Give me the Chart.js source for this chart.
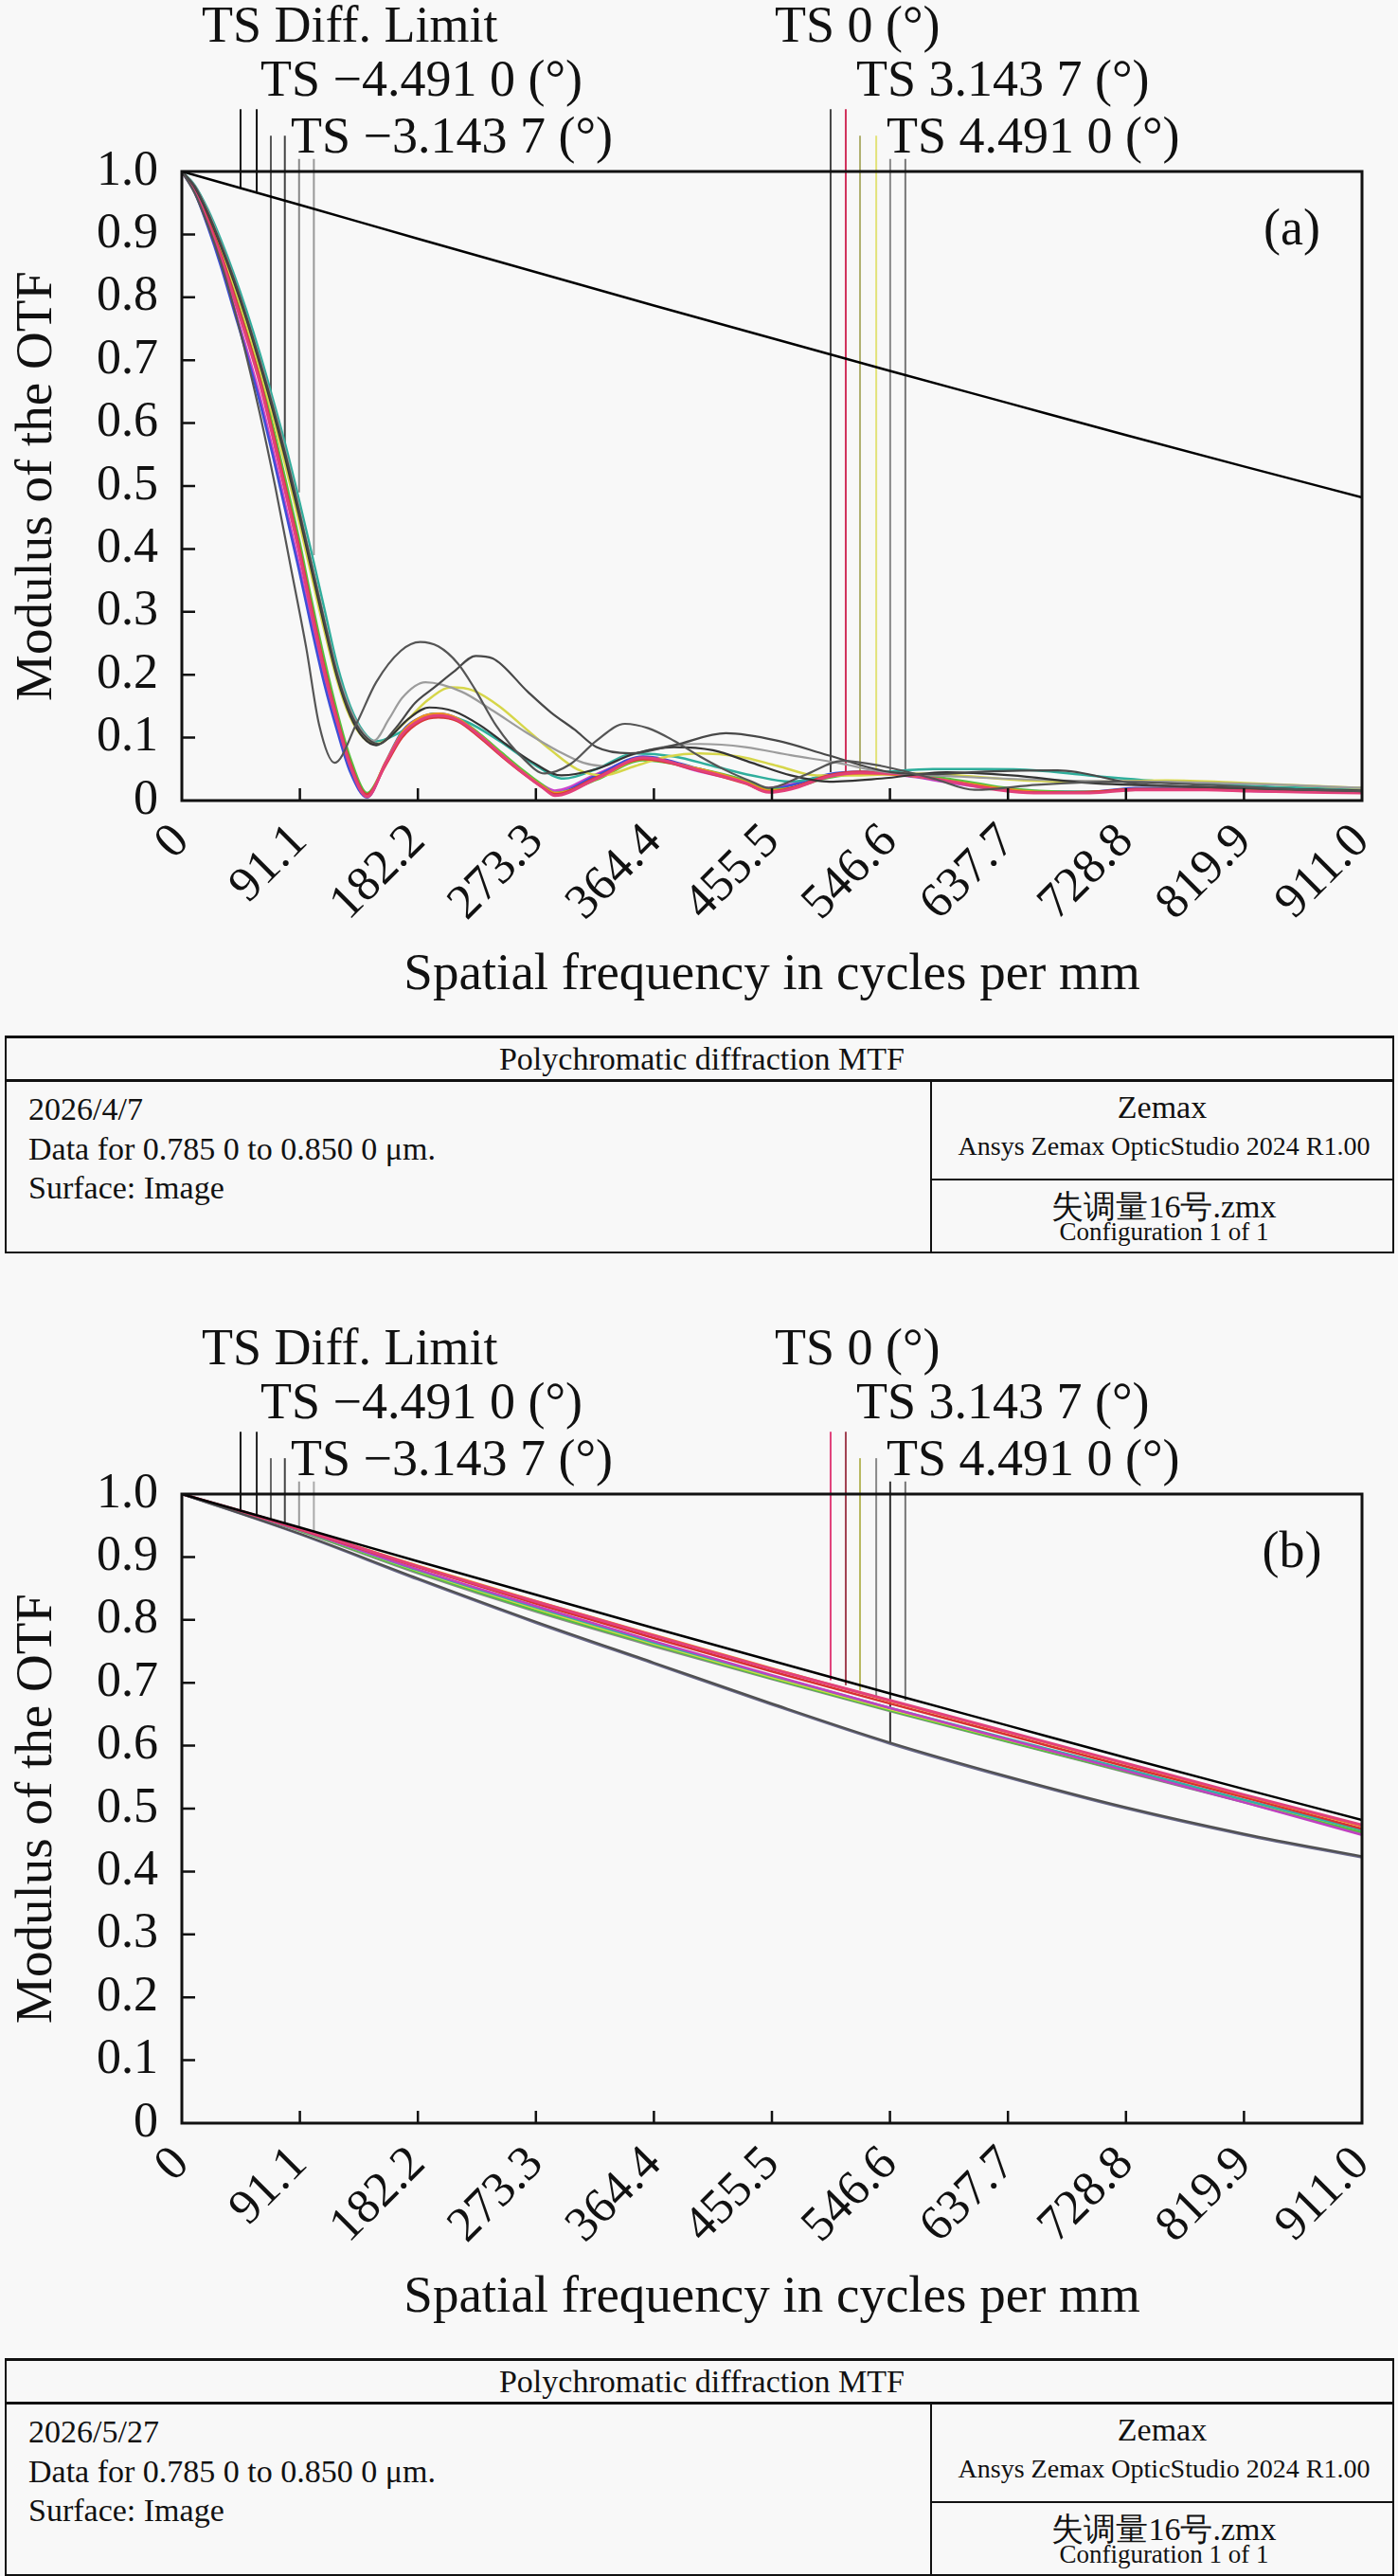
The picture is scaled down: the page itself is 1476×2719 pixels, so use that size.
<!DOCTYPE html>
<html>
<head>
<meta charset="utf-8">
<script src="https://cdn.jsdelivr.net/npm/chart.js@4.4.1/dist/chart.umd.min.js"></script>
<style>
  html, body { margin: 0; padding: 0; }
  body { width: 1476px; height: 2719px; background: #f8f8f8; position: relative; overflow: hidden;
         font-family: "Liberation Serif", "DejaVu Serif", "Noto Serif", serif; color: #111; }
  canvas { position: absolute; left: 0; }
  .foot { position: absolute; left: 5px; width: 1467px; height: 230px; box-sizing: border-box;
          border: 2px solid #111; border-top-width: 3px; overflow: hidden; }
  .foot .t { position: absolute; white-space: nowrap; }
  .foot .hl { position: absolute; height: 0; border-top: 3px solid #111; }
  .foot .vl { position: absolute; width: 0; border-left: 2px solid #111; }
</style>
</head>
<body>
<canvas id="mtfA" width="1476" height="1093" style="top:0"></canvas>
<canvas id="mtfB" width="1476" height="1093" style="top:1396px"></canvas>
<div id="footA" class="foot" style="top:1093px"></div>
<div id="footB" class="foot" style="top:2489px"></div>
<script>
// 軸目盛
const FREQ_TICKS = [0, 91.1, 182.2, 273.3, 364.4, 455.5, 546.6, 637.7, 728.8, 819.9, 911.0];
const FREQ_LABELS = ['0', '91.1', '182.2', '273.3', '364.4', '455.5', '546.6', '637.7', '728.8', '819.9', '911.0'];
const MTF_TICKS = [0, 0.1, 0.2, 0.3, 0.4, 0.5, 0.6, 0.7, 0.8, 0.9, 1.0];
const MTF_LABELS = ['0', '0.1', '0.2', '0.3', '0.4', '0.5', '0.6', '0.7', '0.8', '0.9', '1.0'];

// 凡例
const LEGEND_NAMES = ['TS Diff. Limit', 'TS \u22124.491 0 (\u00b0)', 'TS \u22123.143 7 (\u00b0)',
                      'TS 0 (\u00b0)', 'TS 3.143 7 (\u00b0)', 'TS 4.491 0 (\u00b0)'];

// 回折限界 (a),(b) 共通
const DIFF_MTF = [1.0, 0.947, 0.893, 0.840, 0.787, 0.735, 0.683, 0.632, 0.581, 0.531, 0.482];

// ---- (a) ----
const aFreqMain = [0, 10, 20, 30, 40, 50, 60, 70, 80, 90, 100, 110, 120, 130, 143, 157, 170, 184, 198, 213,
                   230, 247, 264, 279, 288, 320, 356, 400, 435, 453, 470, 499, 524, 559, 594, 630, 658, 701, 736, 790, 825, 911];
const aPink = [1, 0.97, 0.92, 0.865, 0.80, 0.735, 0.665, 0.58, 0.49, 0.40, 0.30, 0.205, 0.125, 0.055, 0.006, 0.058, 0.105, 0.128, 0.135, 0.128,
               0.103, 0.072, 0.043, 0.02, 0.008, 0.035, 0.068, 0.048, 0.028, 0.013, 0.018, 0.038, 0.044, 0.041, 0.03, 0.017, 0.012, 0.012, 0.017, 0.017, 0.015, 0.012];
const aRed = [1, 0.972, 0.925, 0.87, 0.807, 0.742, 0.672, 0.588, 0.498, 0.408, 0.308, 0.212, 0.13, 0.06, 0.01, 0.055, 0.1, 0.125, 0.132, 0.126,
              0.1, 0.07, 0.042, 0.02, 0.01, 0.037, 0.066, 0.047, 0.027, 0.014, 0.02, 0.04, 0.046, 0.042, 0.03, 0.018, 0.013, 0.014, 0.018, 0.018, 0.016, 0.013];
const aOrange = [1, 0.971, 0.923, 0.868, 0.804, 0.74, 0.67, 0.585, 0.495, 0.405, 0.305, 0.21, 0.128, 0.058, 0.008, 0.06, 0.108, 0.132, 0.138, 0.13,
                 0.104, 0.073, 0.044, 0.022, 0.012, 0.034, 0.066, 0.05, 0.03, 0.016, 0.02, 0.038, 0.043, 0.04, 0.031, 0.02, 0.014, 0.013, 0.018, 0.018, 0.016, 0.014];
const aBlue = [1, 0.966, 0.912, 0.85, 0.78, 0.71, 0.635, 0.55, 0.46, 0.37, 0.275, 0.185, 0.11, 0.045, 0.005, 0.06, 0.11, 0.132, 0.138, 0.13,
               0.105, 0.074, 0.044, 0.022, 0.012, 0.04, 0.07, 0.05, 0.03, 0.018, 0.024, 0.042, 0.046, 0.04, 0.03, 0.02, 0.015, 0.014, 0.02, 0.019, 0.016, 0.014];
const aMagenta = [1, 0.967, 0.915, 0.855, 0.787, 0.718, 0.645, 0.56, 0.47, 0.38, 0.285, 0.193, 0.116, 0.05, 0.006, 0.057, 0.104, 0.127, 0.133, 0.127,
                  0.102, 0.071, 0.043, 0.024, 0.016, 0.042, 0.068, 0.046, 0.029, 0.02, 0.026, 0.04, 0.044, 0.039, 0.028, 0.018, 0.013, 0.013, 0.019, 0.018, 0.015, 0.013];
const aGreen = [1, 0.973, 0.928, 0.875, 0.812, 0.748, 0.68, 0.598, 0.51, 0.42, 0.32, 0.225, 0.14, 0.068, 0.012, 0.058, 0.104, 0.128, 0.136, 0.13,
                0.106, 0.076, 0.047, 0.024, 0.012, 0.033, 0.064, 0.05, 0.032, 0.018, 0.02, 0.036, 0.042, 0.042, 0.034, 0.022, 0.016, 0.014, 0.017, 0.018, 0.017, 0.015];

const aG1Freq = [0, 10, 20, 30, 40, 50, 60, 72, 84, 96, 106, 118, 135, 150, 169, 184, 198, 213, 226, 243,
                 263, 280, 300, 320, 342, 360, 380, 400, 420, 440, 453, 480, 510, 540, 580, 612, 660, 720, 790, 860, 911];
const aG1 = [1, 0.965, 0.915, 0.856, 0.785, 0.705, 0.617, 0.50, 0.372, 0.243, 0.12, 0.06, 0.123, 0.188, 0.238, 0.252, 0.245, 0.218, 0.178, 0.118,
             0.068, 0.043, 0.058, 0.095, 0.122, 0.115, 0.095, 0.07, 0.048, 0.03, 0.02, 0.04, 0.063, 0.055, 0.035, 0.017, 0.025, 0.03, 0.025, 0.018, 0.015];

const aG2Freq = [0, 10, 20, 30, 40, 50, 60, 70, 80, 90, 100, 110, 120, 130, 140, 152, 165, 180, 195, 210,
                 227, 240, 267, 285, 303, 320, 346, 380, 420, 460, 499, 548, 583, 620, 676, 736, 784, 850, 911];
const aG2 = [1, 0.976, 0.935, 0.885, 0.83, 0.768, 0.70, 0.628, 0.55, 0.465, 0.375, 0.285, 0.2, 0.14, 0.105, 0.09, 0.115, 0.155, 0.18, 0.205,
             0.23, 0.226, 0.173, 0.14, 0.113, 0.085, 0.075, 0.088, 0.107, 0.095, 0.072, 0.045, 0.042, 0.046, 0.048, 0.027, 0.022, 0.018, 0.015];

const aLFreq = [0, 10, 20, 30, 40, 50, 60, 70, 80, 90, 100, 110, 120, 130, 140, 148, 160, 170, 188, 216,
                240, 266, 291, 310, 325, 343, 380, 400, 435, 470, 506, 541, 600, 680, 760, 850, 911];
const aL = [1, 0.977, 0.937, 0.887, 0.832, 0.77, 0.703, 0.632, 0.555, 0.47, 0.38, 0.29, 0.205, 0.145, 0.108, 0.095, 0.13, 0.163, 0.188, 0.173,
            0.143, 0.108, 0.078, 0.06, 0.055, 0.07, 0.088, 0.09, 0.085, 0.072, 0.06, 0.046, 0.038, 0.032, 0.03, 0.025, 0.02];

const aKFreq = [0, 10, 20, 30, 40, 50, 60, 70, 80, 90, 100, 110, 120, 130, 140, 150, 160, 175, 191, 210,
                230, 250, 270, 293, 320, 350, 380, 410, 440, 470, 500, 540, 590, 640, 700, 780, 860, 911];
const aK = [1, 0.975, 0.933, 0.882, 0.826, 0.764, 0.695, 0.622, 0.543, 0.458, 0.368, 0.278, 0.195, 0.135, 0.1, 0.088, 0.1, 0.13, 0.148, 0.142,
            0.12, 0.09, 0.062, 0.04, 0.05, 0.075, 0.085, 0.08, 0.06, 0.04, 0.03, 0.035, 0.045, 0.04, 0.028, 0.022, 0.018, 0.016];

const aYFreq = [0, 10, 20, 30, 40, 50, 60, 70, 80, 90, 100, 110, 120, 130, 140, 150, 170, 190, 208, 225,
                245, 265, 285, 305, 325, 350, 375, 400, 430, 460, 490, 520, 560, 600, 650, 700, 760, 820, 911];
const aYellow = [1, 0.974, 0.93, 0.878, 0.82, 0.756, 0.686, 0.612, 0.532, 0.447, 0.358, 0.27, 0.19, 0.132, 0.1, 0.09, 0.12, 0.16, 0.18, 0.175,
                 0.15, 0.115, 0.08, 0.05, 0.04, 0.055, 0.07, 0.075, 0.07, 0.055, 0.04, 0.04, 0.043, 0.04, 0.032, 0.03, 0.032, 0.028, 0.02];

const aTFreq = [0, 10, 20, 30, 40, 50, 60, 70, 80, 90, 100, 110, 120, 130, 140, 150, 170, 195, 220, 245,
                270, 295, 320, 350, 380, 410, 440, 470, 500, 540, 580, 620, 660, 700, 760, 840, 911];
const aTeal = [1, 0.978, 0.94, 0.892, 0.838, 0.778, 0.712, 0.64, 0.565, 0.482, 0.395, 0.305, 0.215, 0.15, 0.11, 0.094, 0.11, 0.138, 0.125, 0.095,
               0.06, 0.035, 0.05, 0.075, 0.07, 0.055, 0.04, 0.03, 0.04, 0.045, 0.05, 0.05, 0.048, 0.04, 0.03, 0.022, 0.02];

// 凡例の縦線 (周波数・上端・下端)
const MARK_FREQ = [45.3, 57.8, 68.7, 79.5, 90.5, 101.9, 500.8, 512.5, 523.5, 536.0, 546.8, 558.5];
const MARK_TOP = [1.099, 1.099, 1.057, 1.057, 1.02, 1.02, 1.099, 1.099, 1.057, 1.057, 1.02, 1.02];
const aMarkBottom = [0.974, 0.968, 0.59, 0.55, 0.49, 0.39, 0.045, 0.043, 0.047, 0.048, 0.046, 0.043];
const aMarkColors = ['#111', '#111', '#555', '#444', '#888', '#999', '#444', '#d0305a', '#b0b070', '#e2e27a', '#888', '#777'];

// ---- (b) ----
const bPink = [1, 0.945, 0.885, 0.829, 0.775, 0.722, 0.672, 0.622, 0.572, 0.522, 0.474];
const bOrange = [1, 0.945, 0.886, 0.830, 0.776, 0.723, 0.671, 0.621, 0.571, 0.521, 0.472];
const bRed = [1, 0.944, 0.884, 0.826, 0.771, 0.718, 0.667, 0.617, 0.567, 0.518, 0.468];
const bYellow = [1, 0.943, 0.878, 0.818, 0.762, 0.709, 0.658, 0.609, 0.561, 0.513, 0.466];
const bGreen = [1, 0.942, 0.876, 0.815, 0.760, 0.707, 0.656, 0.607, 0.559, 0.511, 0.463];
const bTeal = [1, 0.943, 0.879, 0.820, 0.764, 0.711, 0.660, 0.611, 0.563, 0.514, 0.466];
const bGray = [1, 0.941, 0.874, 0.813, 0.758, 0.706, 0.655, 0.606, 0.558, 0.510, 0.461];
const bMagenta = [1, 0.943, 0.880, 0.822, 0.766, 0.712, 0.660, 0.610, 0.560, 0.510, 0.458];
const bLowGray = [1, 0.937, 0.866, 0.797, 0.732, 0.667, 0.605, 0.551, 0.502, 0.460, 0.424];
const bLowBlue = [1, 0.936, 0.864, 0.795, 0.730, 0.665, 0.603, 0.549, 0.500, 0.458, 0.422];

const bMarkBottom = [0.974, 0.967, 0.958, 0.950, 0.942, 0.935, 0.704, 0.696, 0.688, 0.678, 0.604, 0.672];
const bMarkColors = ['#111', '#222', '#666', '#444', '#999', '#aaa', '#e0407a', '#a04050', '#b8b860', '#888', '#333', '#777'];

const FONT = '"Liberation Serif", "DejaVu Serif", "Noto Serif", serif';

function curve(freq, mtf, color, width) {
    return {
        data: freq.map((f, i) => ({ x: f, y: mtf[i] })),
        borderColor: color,
        borderWidth: width || 2.5,
        pointRadius: 0,
        cubicInterpolationMode: 'monotone',
        fill: false
    };
}

function marks(bottoms, colors) {
    return MARK_FREQ.map((f, i) => ({
        data: [{ x: f, y: bottoms[i] }, { x: f, y: MARK_TOP[i] }],
        borderColor: colors[i],
        borderWidth: 2,
        pointRadius: 0,
        clip: false
    }));
}

// 枠・内向き目盛・凡例文字
const framePlugin = {
    id: 'mtfFrame',
    afterDraw(chart, args, opts) {
        const { ctx, chartArea: a, scales: { x, y } } = chart;
        ctx.save();
        ctx.strokeStyle = '#111';
        ctx.lineWidth = 3;
        ctx.strokeRect(a.left, a.top, a.right - a.left, a.bottom - a.top);
        ctx.lineWidth = 2.5;
        ctx.beginPath();
        FREQ_TICKS.slice(1, -1).forEach(v => {
            const px = x.getPixelForValue(v);
            ctx.moveTo(px, a.bottom);
            ctx.lineTo(px, a.bottom - 13);
        });
        MTF_TICKS.slice(1, -1).forEach(v => {
            const py = y.getPixelForValue(v);
            ctx.moveTo(a.left, py);
            ctx.lineTo(a.left + 14, py);
        });
        ctx.stroke();

        ctx.fillStyle = '#111';
        ctx.font = '54px ' + FONT;
        ctx.textBaseline = 'alphabetic';
        ctx.textAlign = 'left';
        const pos = [[213, 44], [275, 101], [307, 161], [818, 44], [904, 101], [936, 161]];
        LEGEND_NAMES.forEach((t, i) => ctx.fillText(t, pos[i][0], pos[i][1]));
        ctx.textAlign = 'center';
        ctx.textBaseline = 'middle';
        ctx.fillText(opts.tag, 1364, 244);
        ctx.restore();
    }
};

function makeChart(id, datasets, tag) {
    return new Chart(document.getElementById(id), {
        type: 'line',
        data: { datasets },
        plugins: [framePlugin],
        options: {
            responsive: false,
            animation: false,
            devicePixelRatio: 1,
            layout: { padding: { top: 181, right: 38, left: 0, bottom: 0 } },
            plugins: {
                legend: { display: false },
                tooltip: { enabled: false },
                mtfFrame: { tag }
            },
            scales: {
                x: {
                    type: 'linear',
                    min: 0,
                    max: 911,
                    afterBuildTicks: s => { s.ticks = FREQ_TICKS.map(v => ({ value: v })); },
                    afterFit: s => { s.height = 248; },
                    grid: { display: false, drawTicks: false },
                    border: { display: false },
                    ticks: {
                        autoSkip: false,
                        minRotation: 45,
                        maxRotation: 45,
                        padding: 34,
                        color: '#111',
                        font: { family: FONT, size: 52, lineHeight: 0.05 },
                        callback: (v, i) => FREQ_LABELS[i]
                    },
                    title: {
                        display: true,
                        text: 'Spatial frequency in cycles per mm',
                        color: '#111',
                        font: { family: FONT, size: 55 },
                        padding: { top: 0, bottom: 30 }
                    }
                },
                y: {
                    min: 0,
                    max: 1,
                    afterBuildTicks: s => { s.ticks = MTF_TICKS.map(v => ({ value: v })); },
                    afterFit: s => { s.width = 192; },
                    grid: { display: false, drawTicks: false },
                    border: { display: false },
                    ticks: {
                        padding: 25,
                        color: '#111',
                        font: { family: FONT, size: 52 },
                        callback: (v, i) => MTF_LABELS[i]
                    },
                    title: {
                        display: true,
                        text: 'Modulus of the OTF',
                        color: '#111',
                        font: { family: FONT, size: 55 },
                        padding: { top: 7, bottom: 0 }
                    }
                }
            }
        }
    });
}

makeChart('mtfA', [
    curve(FREQ_TICKS, DIFF_MTF, '#000', 2.5),
    curve(aG1Freq, aG1, '#555555', 2.2),
    curve(aG2Freq, aG2, '#484848', 2.2),
    curve(aKFreq, aK, '#333333', 2.2),
    curve(aLFreq, aL, '#9c9c9c', 2.2),
    curve(aFreqMain, aPink, '#e2407a', 3),
    curve(aFreqMain, aRed, '#d93a3a'),
    curve(aFreqMain, aOrange, '#f0901e'),
    curve(aYFreq, aYellow, '#d6d64a'),
    curve(aTFreq, aTeal, '#2fae9c'),
    curve(aFreqMain, aGreen, '#58c040'),
    curve(aFreqMain, aBlue, '#3d4fd6'),
    curve(aFreqMain, aMagenta, '#cc44cc'),
    ...marks(aMarkBottom, aMarkColors)
], '(a)');

makeChart('mtfB', [
    curve(FREQ_TICKS, DIFF_MTF, '#000', 2.5),
    curve(FREQ_TICKS, bLowGray, '#505050', 2.2),
    curve(FREQ_TICKS, bLowBlue, '#6a6a8c', 2.2),
    curve(FREQ_TICKS, bPink, '#e2407a', 3),
    curve(FREQ_TICKS, bOrange, '#f08a20'),
    curve(FREQ_TICKS, bRed, '#d83030'),
    curve(FREQ_TICKS, bMagenta, '#c040c0'),
    curve(FREQ_TICKS, bTeal, '#30b0a8'),
    curve(FREQ_TICKS, bYellow, '#d8d840'),
    curve(FREQ_TICKS, bGreen, '#50c040'),
    curve(FREQ_TICKS, bGray, '#8a8a8a'),
    ...marks(bMarkBottom, bMarkColors)
], '(b)');

// 下部の情報枠
function buildFooter(id, date) {
    const el = document.getElementById(id);
    const items = [
        ['Polychromatic diffraction MTF', 'center', 734, 21, 34],
        [date, 'left', 23, 74, 34],
        ['Data for 0.785 0 to 0.850 0 \u03bcm.', 'left', 23, 116, 34],
        ['Surface: Image', 'left', 23, 157, 34],
        ['Zemax', 'center', 1220, 72, 34],
        ['Ansys Zemax OpticStudio 2024 R1.00', 'center', 1222, 114, 28],
        ['失调量16号.zmx', 'center', 1222, 177, 34],
        ['Configuration 1 of 1', 'center', 1222, 204, 27]
    ];
    let html = '<div class="hl" style="left:0;width:1463px;top:43px"></div>' +
               '<div class="vl" style="left:975px;top:45px;height:180px"></div>' +
               '<div class="hl" style="left:976px;width:487px;top:148px;border-top-width:2px"></div>';
    items.forEach(([text, align, x, cy, size]) => {
        const lh = Math.round(size * 1.2);
        const left = align === 'center' ? `left:${x - 400}px;width:800px;text-align:center;` : `left:${x}px;`;
        const family = /[\u4e00-\u9fff]/.test(text)
            ? '"Liberation Serif", "DejaVu Serif", "Noto Sans CJK SC", serif' : FONT;
        html += `<div class="t" style="${left}top:${cy - lh / 2}px;line-height:${lh}px;font-size:${size}px;font-family:${family}">${text}</div>`;
    });
    el.innerHTML = html;
}
buildFooter('footA', '2026/4/7');
buildFooter('footB', '2026/5/27');
</script>
</body>
</html>
